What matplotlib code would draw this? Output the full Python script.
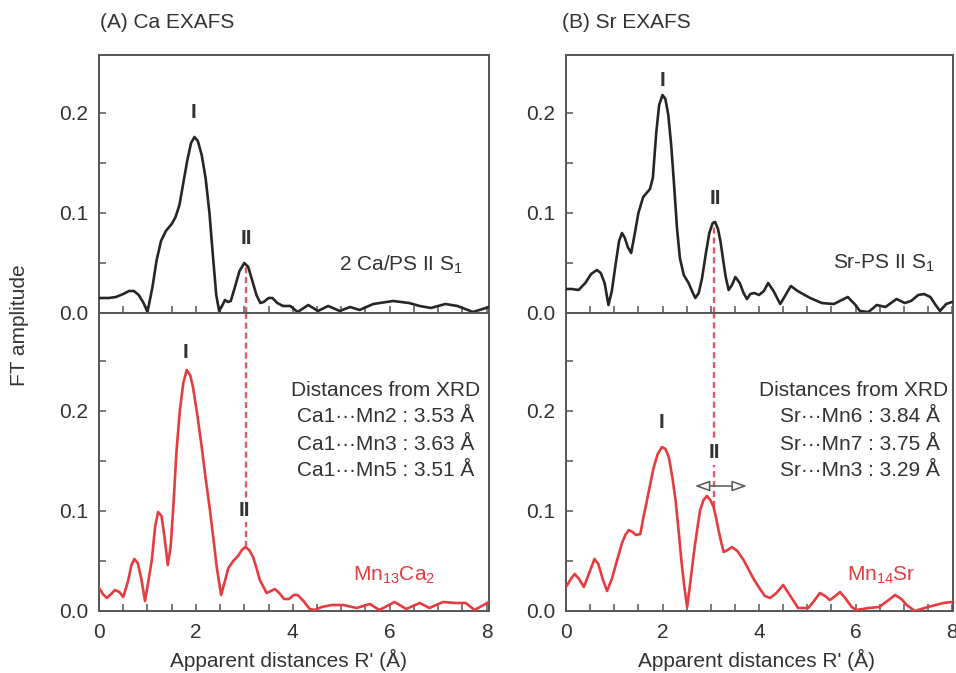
import matplotlib
matplotlib.use("Agg")
import matplotlib.pyplot as plt
from matplotlib.ticker import MultipleLocator, FixedLocator

plt.rcParams['font.family'] = ['Liberation Sans', 'DejaVu Sans']
plt.rcParams['mathtext.default'] = 'regular'

# ---------------- data ----------------
# (A) Ca EXAFS, 2 Ca/PS II S1 (black)
ca_psii_r = [0.0, 0.2, 0.35, 0.5, 0.62, 0.72, 0.82, 0.92, 1.0, 1.1, 1.19, 1.28, 1.38, 1.5, 1.58,
             1.66, 1.74, 1.82, 1.9, 1.97, 2.04, 2.12, 2.2, 2.28, 2.35, 2.42, 2.48, 2.55, 2.6, 2.66,
             2.72, 2.8, 2.9, 3.0, 3.08, 3.16, 3.25, 3.33, 3.4, 3.5, 3.58, 3.68, 3.8, 3.95, 4.1,
             4.32, 4.52, 4.73, 4.97, 5.18, 5.38, 5.66, 6.07, 6.4, 6.62, 6.85, 7.15, 7.4, 7.72, 8.05]
ca_psii_a = [0.015, 0.015, 0.016, 0.019, 0.022, 0.022, 0.018, 0.010, 0.001, 0.025, 0.053, 0.072,
             0.082, 0.089, 0.096, 0.108, 0.130, 0.152, 0.170, 0.176, 0.172, 0.158, 0.135, 0.100,
             0.058, 0.018, 0.002, 0.008, 0.013, 0.011, 0.012, 0.025, 0.042, 0.050, 0.046, 0.033,
             0.018, 0.010, 0.011, 0.015, 0.015, 0.010, 0.007, 0.007, 0.001, 0.008, 0.002, 0.007,
             0.002, 0.006, 0.003, 0.009, 0.012, 0.010, 0.007, 0.005, 0.009, 0.007, 0.001, 0.006]

# (A) Mn13Ca2 (red)
mn13ca2_r = [0.0, 0.08, 0.16, 0.25, 0.33, 0.42, 0.5, 0.6, 0.67, 0.73, 0.8, 0.87, 0.95, 1.02, 1.09,
             1.16, 1.22, 1.29, 1.35, 1.42, 1.48, 1.53, 1.6, 1.67, 1.74, 1.81, 1.88, 1.94, 2.03,
             2.12, 2.2, 2.29, 2.36, 2.43, 2.52, 2.6, 2.67, 2.77, 2.87, 2.95, 3.02, 3.1, 3.18, 3.25,
             3.32, 3.46, 3.55, 3.63, 3.72, 3.82, 3.92, 4.02, 4.1, 4.22, 4.35, 4.45, 4.6, 4.8, 5.04,
             5.32, 5.59, 5.79, 6.1, 6.34, 6.62, 6.82, 7.1, 7.37, 7.57, 7.75, 8.05]
mn13ca2_a = [0.023, 0.017, 0.013, 0.017, 0.021, 0.019, 0.014, 0.030, 0.046, 0.052, 0.048, 0.033,
             0.010, 0.030, 0.051, 0.085, 0.099, 0.095, 0.075, 0.046, 0.065, 0.101, 0.160, 0.201,
             0.228, 0.241, 0.236, 0.224, 0.196, 0.164, 0.133, 0.101, 0.073, 0.044, 0.016, 0.030,
             0.043, 0.050, 0.055, 0.061, 0.064, 0.061, 0.054, 0.043, 0.031, 0.018, 0.020, 0.022,
             0.018, 0.012, 0.012, 0.016, 0.016, 0.010, 0.002, 0.001, 0.004, 0.006, 0.006, 0.003,
             0.007, 0.001, 0.009, 0.002, 0.008, 0.003, 0.009, 0.008, 0.008, 0.001, 0.009]

# (B) Sr EXAFS, Sr-PS II S1 (black)
sr_psii_r = [0.0, 0.12, 0.26, 0.4, 0.52, 0.64, 0.72, 0.8, 0.88, 0.95, 1.02, 1.1, 1.16, 1.22, 1.28,
             1.35, 1.42, 1.5, 1.6, 1.67, 1.74, 1.8, 1.87, 1.93, 2.0, 2.06, 2.12, 2.18, 2.24, 2.3,
             2.36, 2.44, 2.54, 2.62, 2.68, 2.75, 2.82, 2.9, 2.97, 3.04, 3.09, 3.15, 3.2, 3.26, 3.31,
             3.37, 3.44, 3.51, 3.6, 3.68, 3.75, 3.82, 3.9, 4.0, 4.1, 4.19, 4.3, 4.44, 4.55, 4.66,
             4.8, 5.06, 5.3, 5.55, 5.84, 6.0, 6.09, 6.27, 6.44, 6.62, 6.85, 7.02, 7.15, 7.3, 7.42,
             7.55, 7.66, 7.75, 7.88, 8.0]
sr_psii_a = [0.024, 0.024, 0.023, 0.030, 0.039, 0.043, 0.040, 0.030, 0.008, 0.022, 0.046, 0.072,
             0.080, 0.075, 0.066, 0.060, 0.078, 0.100, 0.116, 0.120, 0.124, 0.135, 0.180, 0.208,
             0.218, 0.214, 0.198, 0.168, 0.128, 0.085, 0.055, 0.038, 0.030, 0.021, 0.015, 0.020,
             0.035, 0.060, 0.080, 0.090, 0.091, 0.084, 0.072, 0.052, 0.036, 0.023, 0.028, 0.036,
             0.030, 0.020, 0.014, 0.019, 0.020, 0.018, 0.022, 0.030, 0.022, 0.009, 0.018, 0.027,
             0.022, 0.015, 0.010, 0.009, 0.016, 0.008, 0.002, 0.001, 0.008, 0.006, 0.014, 0.010,
             0.012, 0.018, 0.019, 0.016, 0.008, 0.002, 0.009, 0.011]

# (B) Mn14Sr (red)
mn14sr_r = [0.0, 0.1, 0.18, 0.27, 0.37, 0.48, 0.59, 0.67, 0.76, 0.85, 0.95, 1.06, 1.16, 1.23, 1.3,
            1.38, 1.45, 1.54, 1.61, 1.68, 1.75, 1.82, 1.9, 1.99, 2.06, 2.13, 2.2, 2.27, 2.33, 2.39,
            2.45, 2.51, 2.58, 2.65, 2.72, 2.78, 2.85, 2.92, 2.99, 3.06, 3.11, 3.16, 3.22, 3.27,
            3.35, 3.44, 3.55, 3.68, 3.8, 3.9, 4.02, 4.12, 4.23, 4.36, 4.5, 4.65, 4.81, 5.02, 5.14,
            5.26, 5.37, 5.47, 5.58, 5.68, 5.8, 5.92, 6.02, 6.27, 6.49, 6.66, 6.82, 6.95, 7.06,
            7.23, 7.5, 7.82, 8.0]
mn14sr_a = [0.024, 0.032, 0.037, 0.032, 0.024, 0.038, 0.052, 0.047, 0.032, 0.020, 0.032, 0.051,
            0.068, 0.076, 0.081, 0.079, 0.076, 0.077, 0.095, 0.111, 0.128, 0.144, 0.157, 0.164,
            0.162, 0.154, 0.135, 0.111, 0.082, 0.051, 0.025, 0.004, 0.030, 0.058, 0.082, 0.101,
            0.111, 0.115, 0.111, 0.104, 0.093, 0.081, 0.068, 0.059, 0.061, 0.064, 0.060, 0.051,
            0.040, 0.031, 0.022, 0.015, 0.013, 0.018, 0.026, 0.015, 0.003, 0.003, 0.010, 0.018,
            0.015, 0.011, 0.015, 0.019, 0.012, 0.004, 0.001, 0.003, 0.004, 0.010, 0.016, 0.012,
            0.006, 0.000, 0.004, 0.008, 0.009]

# peak-II reference positions (dashed lines)
ca_peak2_r = 3.03
sr_peak2_r = 3.07
ca_xrd_lines = ["Ca1\u00b7\u00b7\u00b7Mn2 : 3.53 \u00c5",
                "Ca1\u00b7\u00b7\u00b7Mn3 : 3.63 \u00c5",
                "Ca1\u00b7\u00b7\u00b7Mn5 : 3.51 \u00c5"]
sr_xrd_lines = ["Sr\u00b7\u00b7\u00b7Mn6 : 3.84 \u00c5",
                "Sr\u00b7\u00b7\u00b7Mn7 : 3.75 \u00c5",
                "Sr\u00b7\u00b7\u00b7Mn3 : 3.29 \u00c5"]

# ---------------- styling ----------------
TXT = '#333333'
SPINE = '#555555'
BLACK = '#262626'
RED = '#e63c3f'
DASH = '#ea5569'
FS = 15

W, H = 956, 673
fig = plt.figure(figsize=(W / 100, H / 100), dpi=100)


def add_ax(x0, x1, ytop, ybot):
    return fig.add_axes([x0 / W, 1 - ybot / H, (x1 - x0) / W, (ybot - ytop) / H])


axA_t = add_ax(99, 489, 55, 313)
axA_b = add_ax(99, 489, 313, 611)
axB_t = add_ax(566, 953, 55, 313)
axB_b = add_ax(566, 953, 313, 611)


def style(ax, top, xmax):
    ax.set_xlim(0, xmax)
    if top:
        ax.set_ylim(0, 0.258)
        ax.yaxis.set_minor_locator(FixedLocator([0.05, 0.15]))
    else:
        ax.set_ylim(0, 0.298)
        ax.yaxis.set_minor_locator(FixedLocator([0.05, 0.15, 0.25]))
    ax.yaxis.set_major_locator(FixedLocator([0.0, 0.1, 0.2]))
    ax.yaxis.set_major_formatter(plt.FuncFormatter(lambda v, p: f"{v:.1f}"))
    ax.xaxis.set_major_locator(FixedLocator([0, 2, 4, 6, 8]))
    ax.xaxis.set_minor_locator(MultipleLocator(0.5))
    for s in ax.spines.values():
        s.set_color(SPINE)
        s.set_linewidth(1.4)
    ax.tick_params(which='both', direction='in', length=5, width=1.1, color=SPINE,
                   top=False, right=False, labelsize=FS, labelcolor=TXT)
    ax.tick_params(axis='y', pad=8)
    ax.tick_params(axis='x', pad=9)
    if top:
        ax.tick_params(axis='x', labelbottom=False)


style(axA_t, True, 8.05)
style(axA_b, False, 8.05)
style(axB_t, True, 8.02)
style(axB_b, False, 8.02)

# curves
cur = dict(lw=1.9, zorder=3, solid_joinstyle='round', solid_capstyle='round')
axA_t.plot(ca_psii_r, ca_psii_a, color=BLACK, **cur)
axA_b.plot(mn13ca2_r, mn13ca2_a, color=RED, **cur)
axB_t.plot(sr_psii_r, sr_psii_a, color=BLACK, **cur)
axB_b.plot(mn14sr_r, mn14sr_a, color=RED, **cur)

# dashed reference lines
dash = dict(color=DASH, lw=1.7, linestyle=(0, (2.6, 1.6)), zorder=2)
axA_t.plot([ca_peak2_r, ca_peak2_r], [0, 0.048], **dash)
axA_b.plot([ca_peak2_r, ca_peak2_r], [0.064, 0.298], **dash)
axB_t.plot([sr_peak2_r, sr_peak2_r], [0, 0.090], **dash)
axB_b.plot([sr_peak2_r, sr_peak2_r], [0.104, 0.298], **dash)

# peak labels
lab = dict(ha='center', va='center', fontsize=FS, fontweight='bold', color=TXT, zorder=5)
wb = dict(fc='white', ec='none', pad=1.5)
axA_t.text(1.95, 0.200, 'I', **lab)
axA_t.text(3.04, 0.075, 'II', **lab)
axA_b.text(1.79, 0.259, 'I', **lab)
axA_b.text(3.0, 0.101, 'II', bbox=wb, **lab)
axB_t.text(2.0, 0.233, 'I', **lab)
axB_t.text(3.1, 0.114, 'II', **lab)
axB_b.text(1.98, 0.188, 'I', **lab)
axB_b.text(3.07, 0.158, 'II', bbox=wb, **lab)

# sample names
axA_t.text(7.51, 0.048, '2 Ca/PS II S$_{1}$', ha='right', va='center', fontsize=FS, color=TXT)
axB_t.text(7.65, 0.050, 'Sr-PS II S$_{1}$', ha='right', va='center', fontsize=FS, color=TXT)
axA_b.text(6.1, 0.036, 'Mn$_{13}$Ca$_{2}$', ha='center', va='center', fontsize=FS, color=RED)
axB_b.text(6.54, 0.036, 'Mn$_{14}$Sr', ha='center', va='center', fontsize=FS, color=RED)

# XRD distance boxes
ys = [0.194, 0.167, 0.141]
axA_b.text(7.86, 0.221, 'Distances from XRD', ha='right', va='center', fontsize=FS, color=TXT)
for y, s in zip(ys, ca_xrd_lines):
    axA_b.text(7.75, y, s, ha='right', va='center', fontsize=FS, color=TXT)
axB_b.text(7.92, 0.221, 'Distances from XRD', ha='right', va='center', fontsize=FS, color=TXT)
for y, s in zip(ys, sr_xrd_lines):
    axB_b.text(7.75, y, s, ha='right', va='center', fontsize=FS, color=TXT)

# double-headed arrow
axB_b.annotate('', xy=(2.67, 0.125), xytext=(3.75, 0.125),
               arrowprops=dict(arrowstyle='<|-|>,head_length=0.9,head_width=0.32',
                               ec='#555555', fc='white', lw=1.1, shrinkA=0, shrinkB=0),
               zorder=6)

# titles and axis labels
fig.text(100 / W, 1 - 22 / H, '(A) Ca EXAFS', ha='left', va='center', fontsize=FS, color=TXT)
fig.text(562 / W, 1 - 22 / H, '(B) Sr EXAFS', ha='left', va='center', fontsize=FS, color=TXT)
fig.text(20 / W, 1 - 325 / H, 'FT amplitude', rotation=90, ha='center', va='center',
         fontsize=FS, color=TXT)
fig.text(288 / W, 1 - 660 / H, "Apparent distances R' (\u00c5)", ha='center', va='center',
         fontsize=FS, color=TXT)
fig.text(757 / W, 1 - 660 / H, "Apparent distances R' (\u00c5)", ha='center', va='center',
         fontsize=FS, color=TXT)

fig.savefig('out.png', dpi=100)
